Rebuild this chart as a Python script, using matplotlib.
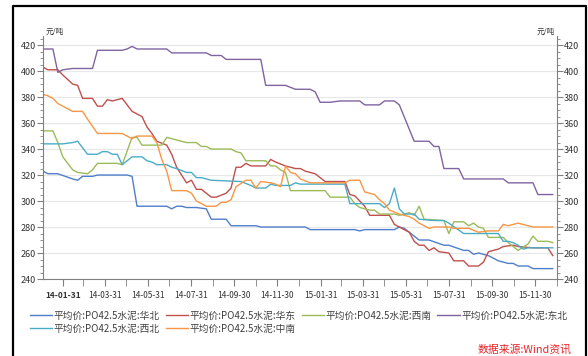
import matplotlib
matplotlib.use('Agg')
import numpy as np
import pandas as pd
import matplotlib.pyplot as plt
import matplotlib.dates as mdates
from matplotlib.lines import Line2D

plt.rcParams['font.family'] = ['Noto Sans CJK SC', 'DejaVu Sans']

# weekly data, week index counted from 2014-01-03
start = pd.Timestamp('2014-01-03')

huabei_w = [0,1,3,6,7,8,10,11,17,18,19,25,26,27,28,29,31,33,34,37,38,43,44,53,54,63,64,65,71,72,73,74,76,77,78,81,82,85,86,87,88,90,92,94,95,96,98,99,103]
huabei_v = [323,321,321,317,316,319,319,320,320,319,296,296,294,296,296,295,295,294,286,286,281,281,280,280,278,278,277,278,278,280,279,276,270,270,270,266,266,262,262,259,260,258,254,252,252,250,250,248,248]

huadong_w = [0,1,3,4,6,7,8,10,11,12,13,14,16,18,20,21,22,23,25,26,27,29,30,31,32,34,35,37,38,39,40,41,42,45,46,47,49,51,52,53,55,57,61,62,63,65,66,70,71,72,74,75,76,77,78,79,80,82,83,85,86,88,89,90,92,93,95,96,99,102,103]
huadong_v = [403,401,401,397,390,389,379,379,373,373,378,377,379,369,365,357,352,346,343,336,326,314,316,309,309,303,303,306,310,326,326,329,327,327,332,330,327,325,325,323,321,315,315,305,304,296,289,289,282,280,276,269,266,266,262,264,261,260,254,254,250,250,253,261,263,265,266,265,264,264,258]

xinan_w = [0,2,3,4,6,7,9,10,11,15,16,18,19,20,24,25,27,28,29,31,32,33,34,38,39,40,41,45,46,47,48,49,50,57,58,62,63,64,66,67,68,71,72,74,75,76,77,81,82,83,85,86,87,88,89,90,93,94,95,96,98,99,100,102,103]
xinan_v = [354,354,345,334,324,322,321,324,329,329,328,349,349,343,343,349,347,346,345,345,342,342,340,340,338,337,331,331,327,327,324,322,308,308,303,303,298,295,293,293,290,290,289,291,289,296,286,285,275,284,284,281,283,280,279,272,272,268,265,262,267,273,269,269,268]

dongbei_w = [0,2,3,4,6,10,11,16,17,18,19,25,26,33,34,36,37,44,45,49,51,54,55,56,58,60,64,65,68,69,71,72,75,78,79,80,81,84,85,93,94,99,100,103]
dongbei_v = [417,417,399,401,402,402,416,416,417,419,417,417,414,414,412,412,409,409,389,389,386,386,384,376,376,377,377,374,374,377,377,374,346,346,342,342,325,325,317,317,314,314,305,305]

xibei_w = [0,4,6,7,9,11,12,13,14,15,16,18,20,21,22,23,25,26,27,29,30,31,32,34,40,42,43,45,46,47,50,51,52,61,62,68,69,70,71,72,73,75,76,79,81,82,85,92,93,94,95,96,97,98,103]
xibei_v = [344,344,345,346,336,336,338,338,336,336,328,334,334,331,330,328,328,326,325,322,322,318,318,316,315,312,310,310,313,312,312,314,313,313,298,298,295,298,310,294,290,290,286,285,285,283,275,275,269,269,268,266,263,264,264]

zhongnan_w = [0,1,2,3,5,6,8,9,11,16,18,19,22,23,24,25,26,29,30,31,33,35,36,37,38,39,41,42,43,44,46,47,48,49,50,51,52,54,61,62,64,65,67,68,69,70,72,74,75,76,78,79,82,83,86,88,90,92,93,94,96,97,99,103]
zhongnan_v = [382,381,379,375,371,369,369,363,352,352,348,350,350,345,332,323,308,308,306,300,296,296,299,299,301,311,316,316,310,315,314,313,311,327,322,321,317,314,314,316,316,307,305,301,298,293,290,288,286,283,279,280,280,279,279,276,277,277,282,281,283,282,280,280]

series = [
    ('平均价:PO42.5水泥:华北', huabei_w, huabei_v, '#4f7ec9'),
    ('平均价:PO42.5水泥:华东', huadong_w, huadong_v, '#c0504d'),
    ('平均价:PO42.5水泥:西南', xinan_w, xinan_v, '#9bbb59'),
    ('平均价:PO42.5水泥:东北', dongbei_w, dongbei_v, '#8064a2'),
    ('平均价:PO42.5水泥:西北', xibei_w, xibei_v, '#4bacc6'),
    ('平均价:PO42.5水泥:中南', zhongnan_w, zhongnan_v, '#f79646'),
]

fig = plt.figure(figsize=(5.88, 3.56), dpi=100)
ax = fig.add_axes([43/588, 77/356, 514/588, 243/356])

handles = {}
for name, w, v, c in series:
    dates = start + pd.to_timedelta(np.array(w) * 7, unit='D')
    ln, = ax.plot(dates, v, color=c, lw=1.0, label=name)
    handles[name] = ln

ax.set_ylim(240, 427)
ax.set_xlim(start, start + pd.Timedelta(days=7*103))
ax.set_yticks(range(240, 421, 20))
ax.set_yticks(range(240, 426, 5), minor=True)
ax.grid(axis='y', which='major', color='#e8e8e8', lw=0.9)
ax.set_axisbelow(True)

# x ticks: month ends, label every other month
month_ends = pd.date_range('2014-01-31', '2015-12-31', freq='ME')
ax.set_xticks(month_ends[::2])
ax.set_xticks(month_ends, minor=True)
ax.xaxis.set_major_formatter(mdates.DateFormatter('%y-%m-%d'))

for s in ['left', 'right', 'bottom']:
    ax.spines[s].set_color('#808080')
ax.spines['top'].set_visible(False)
ax.tick_params(axis='y', which='both', left=True, right=True, labelleft=True, labelright=True,
               colors='#808080', labelcolor='#333333', labelsize=6.5, pad=1)
ax.tick_params(axis='y', which='major', length=4)
ax.tick_params(axis='y', which='minor', length=2)
ax.tick_params(axis='x', which='both', length=5, colors='#808080', labelcolor='#333333', labelsize=6, pad=4)
ax.get_xticklabels()[0].set_fontweight('bold')

ax.text(0.005, 1.0, '元/吨', transform=ax.transAxes, fontsize=5.5, color='#333333', ha='left', va='bottom')
ax.text(0.995, 1.0, '元/吨', transform=ax.transAxes, fontsize=5.5, color='#333333', ha='right', va='bottom')

order = ['华北', '西北', '华东', '中南', '西南', '东北']
hs = [handles['平均价:PO42.5水泥:' + k] for k in order]
fig.legend(hs, [h.get_label() for h in hs], loc='center', bbox_to_anchor=(0.508, 0.095), ncol=4,
           frameon=False, fontsize=7, handlelength=2.3, handletextpad=0.15, columnspacing=0.6,
           labelspacing=0.35, labelcolor='#404040')

fig.text(572/588, 1 - 350/356, '数据来源:Wind资讯', color='#e8262b', fontsize=7.8, style='italic',
         ha='right', va='center')

# outer black frame (no bottom edge)
x0, x1, yt = 12.5/588, 586/588, 1 - 5.5/356
fig.add_artist(Line2D([x0, x0, x1, x1], [0, yt, yt, 0], color='black', lw=1.6, transform=fig.transFigure))

fig.savefig('out.png', dpi=100)
